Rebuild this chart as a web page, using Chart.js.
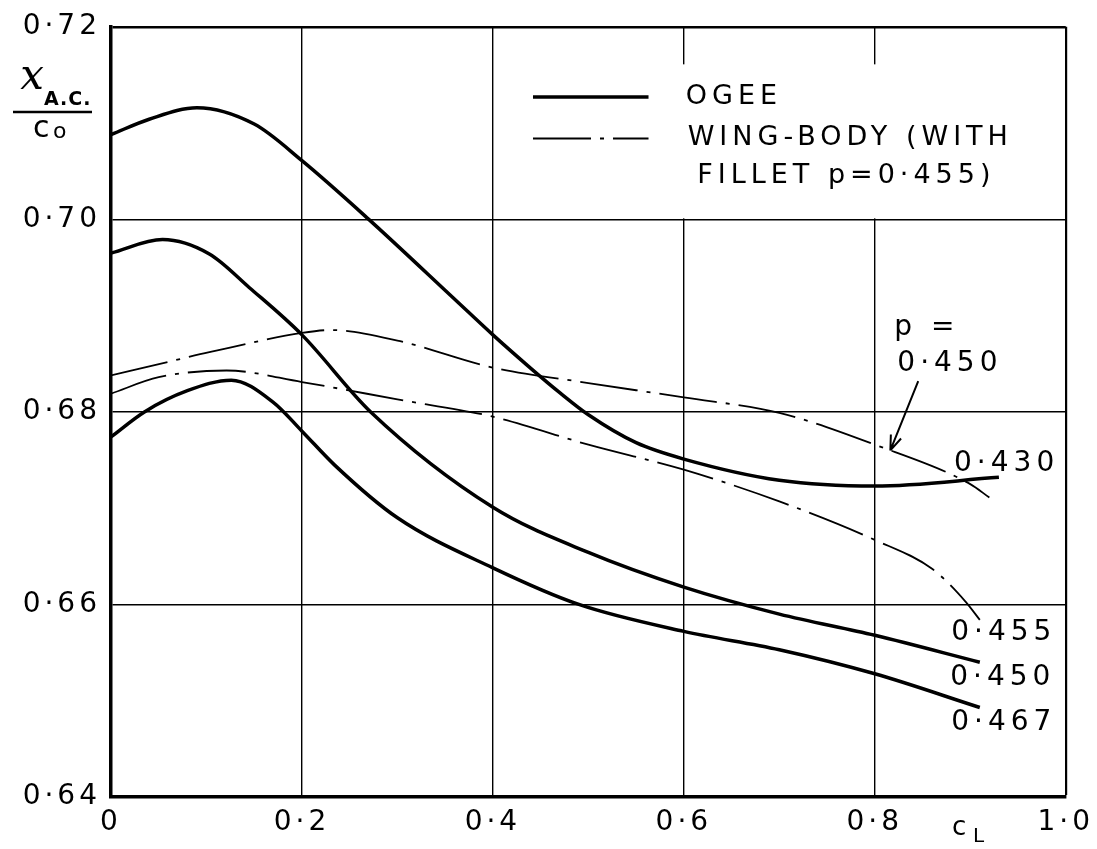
<!DOCTYPE html>
<html>
<head>
<meta charset="utf-8">
<script src="https://cdn.jsdelivr.net/npm/chart.js@4.4.0/dist/chart.umd.min.js"></script>
<style>
  html, body { margin: 0; padding: 0; background: #fff; }
  #wrap { width: 1097px; height: 849px; }
</style>
</head>
<body>
<div id="wrap"><canvas id="chart" width="1097" height="849"></canvas></div>
<script>
// lift coefficient values and aerodynamic centre position
const cl430 = [0, 0.04, 0.09, 0.15, 0.2, 0.27, 0.36, 0.4, 0.44, 0.47, 0.5, 0.55, 0.6, 0.7, 0.8, 0.93];
const xac430 = [0.7088, 0.7104, 0.7116, 0.7099, 0.7061, 0.7000, 0.6917, 0.6880, 0.6845, 0.6820, 0.6797, 0.6768, 0.6751, 0.6729, 0.6723, 0.6732];

const cl450 = [0, 0.054, 0.103, 0.145, 0.2, 0.272, 0.4, 0.5, 0.6, 0.7, 0.8, 0.91];
const xac450 = [0.6965, 0.6979, 0.6964, 0.6929, 0.6880, 0.6800, 0.6701, 0.6654, 0.6618, 0.6590, 0.6568, 0.6540];

const cl467 = [0, 0.035, 0.08, 0.126, 0.17, 0.2, 0.234, 0.3, 0.4, 0.49, 0.6, 0.7, 0.8, 0.91];
const xac467 = [0.6774, 0.6800, 0.6822, 0.6833, 0.6810, 0.6780, 0.6745, 0.6690, 0.6638, 0.6600, 0.6572, 0.6553, 0.6528, 0.6493];

const clWb450 = [0, 0.06, 0.103, 0.2, 0.23, 0.3, 0.4, 0.5, 0.6, 0.7, 0.8, 0.9, 0.92];
const xacWb450 = [0.6838, 0.6852, 0.6862, 0.6882, 0.6885, 0.6874, 0.6846, 0.6830, 0.6815, 0.6799, 0.6766, 0.6725, 0.6711];

const clWb455 = [0, 0.05, 0.121, 0.2, 0.3, 0.4, 0.5, 0.6, 0.7, 0.8, 0.86, 0.895, 0.91];
const xacWb455 = [0.6819, 0.6836, 0.6843, 0.6831, 0.6813, 0.6795, 0.6766, 0.6740, 0.6707, 0.6667, 0.6637, 0.6603, 0.6584];

const xTickLabels = ["0", "0·2", "0·4", "0·6", "0·8", "1·0"];
const yTickLabels = ["0·64", "0·66", "0·68", "0·70", "0·72"];

const legendLabels = ["OGEE", "WING-BODY (WITH", "FILLET p=0·455)"];

// curve-end labels, placed in data units
const curveLabels = [
  { text: "0·430", x: 0.883, y: 0.6746 },
  { text: "0·455", x: 0.880, y: 0.6571 },
  { text: "0·450", x: 0.879, y: 0.6524 },
  { text: "0·467", x: 0.880, y: 0.6477 },
  { text: "p =", x: 0.8205, y: 0.6887 },
  { text: "0·450", x: 0.8236, y: 0.6850 },
];

const FONT = "DejaVu Sans";
const DASH_DOT = [58, 9, 4, 9];

function toPoints(xs, ys) {
  return xs.map((x, i) => ({ x, y: ys[i] }));
}

function solid(data) {
  return {
    data,
    showLine: true,
    borderColor: "#000",
    borderWidth: 3.5,
    pointRadius: 0,
    cubicInterpolationMode: "monotone",
  };
}

function dashDot(data) {
  return {
    data,
    showLine: true,
    borderColor: "#000",
    borderWidth: 1.8,
    borderDash: DASH_DOT,
    pointRadius: 0,
    cubicInterpolationMode: "monotone",
  };
}

const spacingPlugin = {
  id: "spacing",
  beforeDraw(chart) {
    chart.ctx.letterSpacing = "4px";
  },
};

const legendPlugin = {
  id: "legendBox",
  beforeDatasetsDraw(chart) {
    const { ctx, scales } = chart;
    const x = scales.x;
    const y = scales.y;
    ctx.save();
    ctx.fillStyle = "#fff";
    const left = x.getPixelForValue(0.43);
    const right = x.getPixelForValue(1.0) - 1.5;
    const top = y.getPixelForValue(0.7161);
    const bottom = y.getPixelForValue(0.70) - 1;
    ctx.fillRect(left, top, right - left, bottom - top);

    const x0 = x.getPixelForValue(0.442);
    const x1 = x.getPixelForValue(0.563);
    const row1 = y.getPixelForValue(0.7127);
    const row2 = y.getPixelForValue(0.7084);
    const row3 = y.getPixelForValue(0.7045);

    ctx.strokeStyle = "#000";
    ctx.lineWidth = 3.5;
    ctx.beginPath();
    ctx.moveTo(x0, row1);
    ctx.lineTo(x1, row1);
    ctx.stroke();

    ctx.lineWidth = 1.8;
    ctx.setLineDash(DASH_DOT);
    ctx.beginPath();
    ctx.moveTo(x0, row2);
    ctx.lineTo(x1, row2);
    ctx.stroke();
    ctx.setLineDash([]);

    ctx.fillStyle = "#000";
    ctx.font = `27px ${FONT}`;
    ctx.letterSpacing = "5px";
    ctx.textBaseline = "middle";
    ctx.textAlign = "left";
    ctx.fillText(legendLabels[0], x.getPixelForValue(0.602), row1);
    ctx.fillText(legendLabels[1], x.getPixelForValue(0.604), row2);
    ctx.fillText(legendLabels[2], x.getPixelForValue(0.614), row3);
    ctx.restore();
  },
};

const notesPlugin = {
  id: "notes",
  afterDraw(chart) {
    const { ctx, scales } = chart;
    const x = scales.x;
    const y = scales.y;
    ctx.save();
    ctx.fillStyle = "#000";
    ctx.strokeStyle = "#000";
    ctx.font = `28px ${FONT}`;
    ctx.letterSpacing = "5px";
    ctx.textBaseline = "middle";
    ctx.textAlign = "left";
    curveLabels.forEach((l) => {
      ctx.fillText(l.text, x.getPixelForValue(l.x), y.getPixelForValue(l.y));
    });

    // arrow from the p = 0.450 note to its curve
    const sx = x.getPixelForValue(0.8455);
    const sy = y.getPixelForValue(0.6832);
    const tx = x.getPixelForValue(0.8163);
    const ty = y.getPixelForValue(0.6760);
    ctx.lineWidth = 2;
    ctx.beginPath();
    ctx.moveTo(sx, sy);
    ctx.lineTo(tx, ty);
    const ang = Math.atan2(ty - sy, tx - sx);
    const len = 16;
    ctx.moveTo(tx, ty);
    ctx.lineTo(tx - len * Math.cos(ang - 0.35), ty - len * Math.sin(ang - 0.35));
    ctx.moveTo(tx, ty);
    ctx.lineTo(tx - len * Math.cos(ang + 0.35), ty - len * Math.sin(ang + 0.35));
    ctx.stroke();

    // y axis title: x_A.C. / c_o
    ctx.letterSpacing = "0px";
    ctx.textAlign = "center";
    ctx.font = `italic 42px "DejaVu Serif"`;
    ctx.fillText("x", 32, 78);
    ctx.font = `bold 19px ${FONT}`;
    ctx.letterSpacing = "1px";
    ctx.textAlign = "left";
    ctx.fillText("A.C.", 44, 100);
    ctx.letterSpacing = "0px";
    ctx.lineWidth = 2.5;
    ctx.beginPath();
    ctx.moveTo(13, 112);
    ctx.lineTo(92, 112);
    ctx.stroke();
    ctx.font = `30px ${FONT}`;
    ctx.fillText("c", 33, 129);
    ctx.font = `22px ${FONT}`;
    ctx.fillText("o", 53, 132);

    // x axis title: c_L
    ctx.font = `26px ${FONT}`;
    ctx.fillText("c", 952, 828);
    ctx.font = `20px ${FONT}`;
    ctx.fillText("L", 973, 837);
    ctx.restore();
  },
};

function gridWidth(ctx, lastWidth) {
  const n = ctx.scale.ticks.length;
  if (ctx.index === n - 1) return lastWidth;
  return 1.4;
}

const chart = new Chart(document.getElementById("chart").getContext("2d"), {
  type: "scatter",
  data: {
    datasets: [
      solid(toPoints(cl430, xac430)),
      solid(toPoints(cl450, xac450)),
      solid(toPoints(cl467, xac467)),
      dashDot(toPoints(clWb450, xacWb450)),
      dashDot(toPoints(clWb455, xacWb455)),
    ],
  },
  options: {
    responsive: false,
    animation: false,
    devicePixelRatio: 1,
    layout: {
      padding: { top: 25, right: 28, left: 0, bottom: 0 },
    },
    plugins: {
      legend: { display: false },
      tooltip: { enabled: false },
    },
    scales: {
      x: {
        type: "linear",
        min: 0,
        max: 1,
        afterFit: (scale) => {
          scale.height = 52;
        },
        ticks: {
          stepSize: 0.2,
          color: "#000",
          padding: 9,
          maxRotation: 0,
          font: { family: FONT, size: 28 },
          callback: (value, index) => xTickLabels[index],
        },
        grid: {
          color: "#000",
          lineWidth: (ctx) => gridWidth(ctx, 2.2),
          drawTicks: false,
        },
        border: { color: "#000", width: 3.5 },
      },
      y: {
        type: "linear",
        min: 0.64,
        max: 0.72,
        afterFit: (scale) => {
          scale.width = 111;
        },
        ticks: {
          stepSize: 0.02,
          color: "#000",
          padding: 10,
          font: { family: FONT, size: 28 },
          callback: (value, index) => yTickLabels[index],
        },
        grid: {
          color: "#000",
          lineWidth: (ctx) => gridWidth(ctx, 2.6),
          drawTicks: false,
        },
        border: { color: "#000", width: 3.5 },
      },
    },
  },
  plugins: [spacingPlugin, legendPlugin, notesPlugin],
});
</script>
</body>
</html>
